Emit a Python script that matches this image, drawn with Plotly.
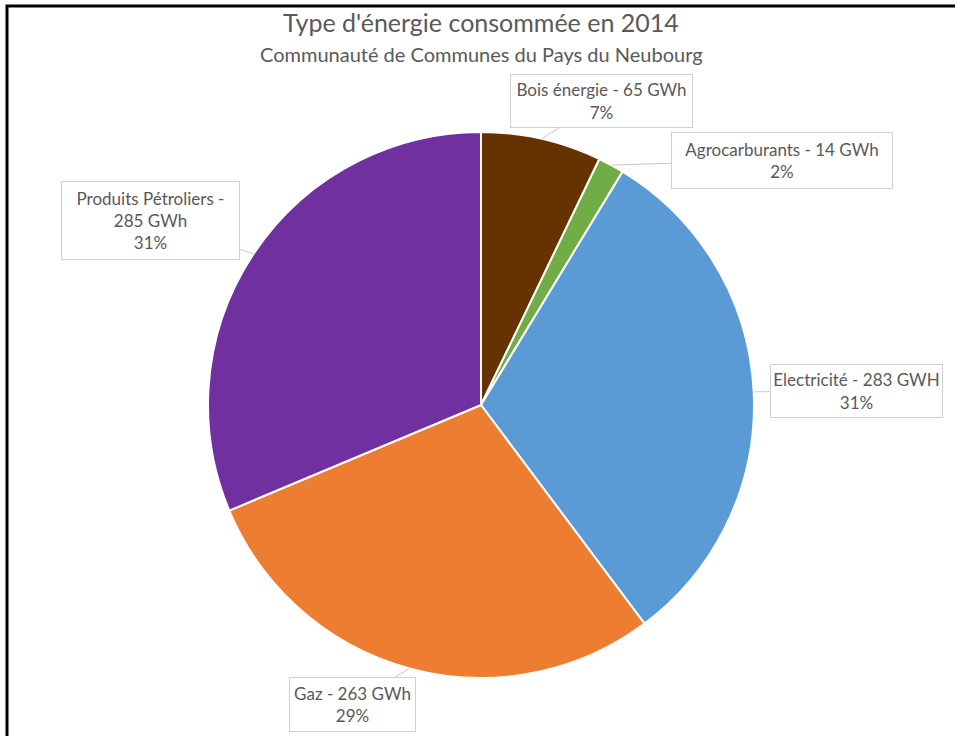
import math
import plotly.graph_objects as go

# ---- data ----
categories = ["Bois énergie", "Agrocarburants", "Electricité", "Gaz", "Produits Pétroliers"]
values_gwh = [65, 14, 283, 263, 285]
unit_labels = ["GWh", "GWh", "GWH", "GWh", "GWh"]
colors = ["#663300", "#70AD47", "#5B9BD5", "#ED7D31", "#7030A0"]
title_text = "Type d'énergie consommée en 2014"
subtitle_text = "Communauté de Communes du Pays du Neubourg"

# ---- layout constants ----
W, H = 955, 736
CX, CY, R = 481, 405, 273          # pie centre and radius in pixels
# box centre offsets (pixels) relative to the slice point the callout points at
box_offsets = [(60, -38), (171, -5), (103, -1), (-57, 36), (-103, -33)]
box_sizes = [(181, 52), (220, 55), (171, 52), (125, 53), (177, 77)]
label_breaks = [False, False, False, False, True]
text_color = "#595959"
font_family = "Lato, Liberation Sans, Arial, sans-serif"

fig = go.Figure(go.Pie(
    labels=categories,
    values=values_gwh,
    sort=False,
    direction="clockwise",
    rotation=0,
    marker=dict(colors=colors, line=dict(color="white", width=2)),
    textinfo="none",
    hoverinfo="label+value+percent",
    domain=dict(x=[(CX - R) / W, (CX + R) / W], y=[1 - (CY + R) / H, 1 - (CY - R) / H]),
    showlegend=False,
))

total = sum(values_gwh)
annotations = []
cum = 0
for cat, v, unit, brk, (dx, dy), (bw, bh) in zip(categories, values_gwh, unit_labels,
                                                  label_breaks, box_offsets, box_sizes):
    mid = (cum + v / 2) / total * 2 * math.pi
    cum += v
    px = CX + R * math.sin(mid)
    py = CY - R * math.cos(mid)
    pct = f"{round(v / total * 100)}%"
    sep = " -<br>" if brk else " - "
    text = f"{cat}{sep}{v} {unit}<br>{pct}"
    annotations.append(dict(
        x=px / W, y=1 - py / H, xref="paper", yref="paper",
        text=text, showarrow=True, ax=dx, ay=dy, axref="pixel", ayref="pixel",
        arrowhead=0, arrowwidth=1, arrowcolor="#C8C8C8",
        bordercolor="#D0D0D0", borderwidth=1, borderpad=0, bgcolor="white",
        width=bw, height=bh,
        font=dict(family=font_family, size=17, color=text_color), align="center",
    ))

annotations.append(dict(x=CX / W, y=1 - 22 / H, xref="paper", yref="paper", text=title_text,
                        showarrow=False, font=dict(family=font_family, size=25, color=text_color),
                        xanchor="center", yanchor="middle"))
annotations.append(dict(x=CX / W, y=1 - 54 / H, xref="paper", yref="paper", text=subtitle_text,
                        showarrow=False, font=dict(family=font_family, size=20, color=text_color),
                        xanchor="center", yanchor="middle"))

fig.update_layout(
    width=W, height=H,
    margin=dict(l=0, r=0, t=0, b=0),
    paper_bgcolor="white", plot_bgcolor="white",
    annotations=annotations,
    shapes=[dict(type="rect", xref="paper", yref="paper",
                 x0=7 / W, x1=1.2, y0=-0.2, y1=1 - 6 / H,
                 line=dict(color="black", width=3))],
)

fig.write_html("out.html", config={"displayModeBar": False})
